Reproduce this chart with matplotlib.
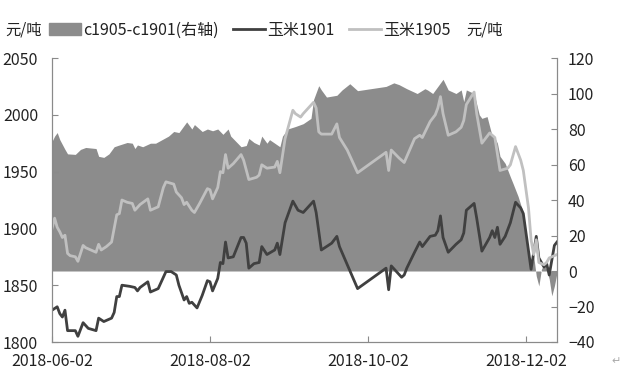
import matplotlib.pyplot as plt
import matplotlib.dates as mdates
from matplotlib.patches import Patch
from matplotlib.lines import Line2D
import pandas as pd

plt.rcParams['font.family'] = ['Noto Sans CJK SC', 'DejaVu Sans']

# 玉米1901 (左轴, 元/吨)
d1901 = ['06-02', '06-04', '06-05', '06-06', '06-07', '06-08', '06-11', '06-12', '06-14', '06-16',
         '06-19', '06-20', '06-22', '06-25', '06-26', '06-27', '06-28', '06-29', '07-02', '07-04',
         '07-05', '07-06', '07-09', '07-10', '07-12', '07-13', '07-16', '07-18', '07-20', '07-21',
         '07-23', '07-24', '07-25', '07-26', '07-28', '07-30', '08-01', '08-02', '08-03', '08-05',
         '08-06', '08-07', '08-08', '08-09', '08-11', '08-14', '08-15', '08-16', '08-17', '08-19',
         '08-21', '08-22', '08-24', '08-27', '08-28', '08-29', '08-31', '09-03', '09-05', '09-07',
         '09-11', '09-12', '09-14', '09-18', '09-20', '09-21', '09-28', '10-09', '10-10', '10-11',
         '10-15', '10-16', '10-17', '10-20', '10-22', '10-23', '10-25', '10-26', '10-28', '10-29',
         '10-30', '10-31', '11-02', '11-05', '11-07', '11-08', '11-09', '11-12', '11-13', '11-15',
         '11-18', '11-19', '11-20', '11-21', '11-22', '11-24', '11-26', '11-28', '11-30', '12-01',
         '12-04', '12-06', '12-07', '12-09', '12-10', '12-11', '12-13', '12-14']
v1901 = [1828, 1831, 1825, 1822, 1828, 1810, 1810, 1805, 1817, 1812,
         1810, 1821, 1818, 1821, 1826, 1840, 1840, 1850, 1849, 1848,
         1845, 1848, 1853, 1844, 1846, 1847, 1862, 1862, 1859, 1850,
         1837, 1840, 1834, 1835, 1830, 1841, 1854, 1853, 1845, 1856,
         1870, 1869, 1888, 1874, 1875, 1892, 1892, 1887, 1865, 1869,
         1870, 1884, 1877, 1881, 1887, 1877, 1905, 1924, 1916, 1914,
         1924, 1914, 1881, 1887, 1893, 1884, 1847, 1865, 1846, 1867,
         1857, 1859, 1865, 1879, 1888, 1884, 1890, 1893, 1894, 1898,
         1911, 1892, 1879, 1886, 1890, 1896, 1916, 1922, 1909, 1880,
         1892, 1898, 1892, 1901, 1886, 1893, 1905, 1923, 1918, 1913,
         1864, 1893, 1874, 1866, 1869, 1859, 1885, 1888]

# 玉米1905 (左轴, 元/吨)
d1905 = ['06-02', '06-03', '06-04', '06-05', '06-06', '06-07', '06-08', '06-09', '06-11', '06-12',
         '06-14', '06-15', '06-19', '06-20', '06-21', '06-23', '06-25', '06-27', '06-28', '06-29',
         '07-01', '07-03', '07-04', '07-06', '07-09', '07-10', '07-13', '07-15', '07-16', '07-19',
         '07-20', '07-22', '07-23', '07-24', '07-26', '07-27', '07-29', '08-01', '08-02', '08-03',
         '08-05', '08-06', '08-07', '08-08', '08-09', '08-11', '08-14', '08-15', '08-17', '08-20',
         '08-21', '08-22', '08-24', '08-27', '08-28', '08-29', '08-31', '09-03', '09-04', '09-06',
         '09-07', '09-11', '09-12', '09-13', '09-14', '09-18', '09-20', '09-21', '09-24', '09-28',
         '10-09', '10-10', '10-11', '10-14', '10-16', '10-20', '10-22', '10-23', '10-26', '10-28',
         '10-29', '10-30', '10-31', '11-02', '11-05', '11-07', '11-08', '11-09', '11-12', '11-13',
         '11-15', '11-18', '11-20', '11-22', '11-25', '11-26', '11-28', '11-30', '12-01', '12-03',
         '12-04', '12-05', '12-06', '12-07', '12-09', '12-10', '12-11', '12-14']
v1905 = [1900, 1909, 1901, 1897, 1892, 1894, 1878, 1876, 1875, 1871,
         1885, 1883, 1879, 1886, 1881, 1884, 1888, 1912, 1913, 1925,
         1923, 1922, 1916, 1921, 1926, 1916, 1919, 1936, 1941, 1939,
         1932, 1927, 1921, 1923, 1916, 1914, 1922, 1935, 1934, 1926,
         1936, 1950, 1949, 1965, 1953, 1957, 1965, 1960, 1943, 1945,
         1947, 1956, 1953, 1954, 1959, 1949, 1979, 2004, 2001, 1998,
         2001, 2011, 2006, 1985, 1983, 1983, 1992, 1980, 1969, 1949,
         1967, 1951, 1969, 1962, 1958, 1979, 1982, 1980, 1994, 2000,
         2006, 2016, 2001, 1982, 1985, 1989, 1995, 2009, 2020, 2001,
         1975, 1984, 1980, 1951, 1953, 1956, 1972, 1960, 1951, 1918,
         1890, 1877, 1890, 1870, 1868, 1870, 1874, 1877]

# c1905-c1901 (右轴, 元/吨)
dspread = ['06-02', '06-03', '06-04', '06-05', '06-07', '06-08', '06-11', '06-13', '06-15', '06-19',
           '06-20', '06-22', '06-24', '06-26', '06-28', '07-01', '07-03', '07-04', '07-05', '07-07',
           '07-10', '07-12', '07-17', '07-19', '07-21', '07-22', '07-24', '07-26', '07-27', '07-30',
           '08-01', '08-03', '08-05', '08-07', '08-09', '08-10', '08-12', '08-14', '08-16', '08-17',
           '08-19', '08-21', '08-22', '08-24', '08-25', '08-27', '08-29', '08-30', '09-01', '09-04',
           '09-07', '09-10', '09-11', '09-13', '09-14', '09-16', '09-20', '09-22', '09-25', '09-28',
           '10-09', '10-12', '10-14', '10-17', '10-21', '10-24', '10-25', '10-27', '10-29', '10-31',
           '11-02', '11-05', '11-07', '11-08', '11-09', '11-12', '11-14', '11-15', '11-17', '11-19',
           '11-20', '11-21', '11-22', '11-24', '11-26', '11-27', '11-29', '12-01', '12-02', '12-04',
           '12-05', '12-06', '12-07', '12-08', '12-09', '12-10', '12-11', '12-12', '12-13', '12-14']
vspread = [73, 76, 78, 74, 68.5, 66, 65.7, 68.5, 69.6, 69,
           64.6, 64, 66, 70, 71, 72.4, 72, 69, 71, 70,
           72, 72, 76, 78.6, 78, 80, 84, 80, 82.5, 78.6,
           80, 79, 80, 77, 80, 76, 73, 70, 70.7, 74.7,
           72.4, 71, 76, 72, 74, 72, 70, 76, 80, 81.4,
           83, 86, 96.6, 104.4, 102, 98, 99, 102, 105.5, 101.6,
           104, 106, 105, 102.7, 100, 102.7, 102, 100, 104, 108,
           102, 100, 102, 95.4, 102, 100, 88, 86, 87, 75.8,
           75, 72, 64.6, 60.6, 53, 49.4, 42, 32.6, 19.6, 1,
           8.4, -2.8, -8.4, 1, 4, 1, -4.5, -14, -8.4, -1]

xticks = ['2018-06-02', '2018-08-02', '2018-10-02', '2018-12-02']

t1901 = pd.to_datetime(['2018-' + d for d in d1901])
t1905 = pd.to_datetime(['2018-' + d for d in d1905])
tspread = pd.to_datetime(['2018-' + d for d in dspread])

fig = plt.figure(figsize=(6.29, 3.75), dpi=100)
ax = fig.add_axes([0.0827, 0.088, 0.8028, 0.7573])
ax2 = ax.twinx()

ax2.fill_between(tspread, vspread, 0, color='#8c8c8c', linewidth=0)
ax.plot(t1901, v1901, color='#404040', lw=2.0)
ax.plot(t1905, v1905, color='#c0c0c0', lw=2.0)

ax.set_zorder(ax2.get_zorder() + 1)
ax.patch.set_visible(False)

ax.set_xlim(pd.Timestamp('2018-06-02'), pd.Timestamp('2018-12-14'))
ax.set_ylim(1800, 2050)
ax2.set_ylim(-40, 120)
ax.set_yticks(range(1800, 2051, 50))
ax2.set_yticks(range(-40, 121, 20))
ax.set_xticks(pd.to_datetime(xticks))
ax.xaxis.set_major_formatter(mdates.DateFormatter('%Y-%m-%d'))

for a in (ax, ax2):
    for s in a.spines.values():
        s.set_color('#8a8a8a')
    a.spines['top'].set_visible(False)
    a.tick_params(direction='in', length=4, color='#8a8a8a', labelsize=11.5, labelcolor='#222222')
ax.tick_params(axis='y', pad=10)
ax2.tick_params(axis='y', pad=8)
ax.tick_params(axis='x', pad=8)

handles = [Patch(color='#8c8c8c'),
           Line2D([], [], color='#404040', lw=2.0),
           Line2D([], [], color='#c0c0c0', lw=2.0)]
labels = ['c1905-c1901(右轴)', '玉米1901', '玉米1905']
fig.legend(handles, labels, loc='center left', bbox_to_anchor=(0.055, 0.92), ncol=3,
           frameon=False, fontsize=11.5, handlelength=2.0, handleheight=0.7,
           handletextpad=0.15, columnspacing=0.9, labelcolor='#222222')
fig.text(0.008, 0.92, '元/吨', fontsize=11, va='center', color='#222222')
fig.text(0.742, 0.92, '元/吨', fontsize=11, va='center', color='#222222')
fig.text(0.972, 0.03, '↵', fontsize=8, color='#aaaaaa')

fig.savefig('out.png', dpi=100)
